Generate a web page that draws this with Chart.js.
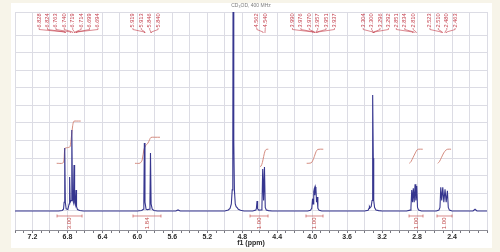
<!DOCTYPE html>
<html>
<head>
<meta charset="utf-8">
<script src="https://cdn.jsdelivr.net/npm/chart.js@4.4.0/dist/chart.umd.min.js"></script>
<style>
  html, body { margin: 0; padding: 0; }
  body { width: 500px; height: 252px; background: #f7f4e9; position: relative; overflow: hidden; }
  #painel { position: absolute; left: 11px; top: 3px; width: 481px; height: 245px; background: #ffffff; }
  canvas { display: block; }
</style>
</head>
<body>
<div id="painel"><canvas id="espectro" width="481" height="245"></canvas></div>
<script>
// 1H NMR, CD3OD, 400 MHz
const tituloTexto = 'CD\u2083OD, 400 MHz';
const eixoTitulo = 'f1 (ppm)';
const xTickLabels = ['7.2', '6.8', '6.4', '6.0', '5.6', '5.2', '4.8', '4.4', '4.0', '3.6', '3.2', '2.8', '2.4'];

// spectrum trace (ppm, intensity)
const specPpm = [
  7.40, 6.90, 6.86, 6.845, 6.838, 6.831, 6.824, 6.815, 6.795, 6.781, 6.775, 6.768, 6.757, 6.750, 6.742, 6.732, 6.725, 6.718, 6.710, 6.702, 6.696, 6.685, 6.66, 6.62,
  6.00, 5.95, 5.933, 5.926, 5.920, 5.913, 5.900, 5.885, 5.863, 5.856, 5.850, 5.843, 5.830, 5.81, 5.77,
  5.56, 5.535, 5.51,
  5.00, 4.96, 4.94, 4.925, 4.915, 4.908, 4.903, 4.897, 4.890, 4.880, 4.870, 4.856, 4.845, 4.82, 4.78,
  4.68, 4.645, 4.638, 4.631, 4.624, 4.61, 4.585, 4.575, 4.566, 4.556, 4.546, 4.537, 4.525, 4.50, 4.46,
  4.05, 4.02, 4.005, 3.996, 3.989, 3.982, 3.976, 3.970, 3.963, 3.957, 3.950, 3.943, 3.935, 3.92, 3.89,
  3.40, 3.36, 3.350, 3.345, 3.338, 3.325, 3.315, 3.310, 3.306, 3.301, 3.296, 3.286, 3.27, 3.24, 3.20,
  2.92, 2.88, 2.870, 2.861, 2.852, 2.843, 2.833, 2.823, 2.814, 2.804, 2.795, 2.782, 2.75,
  2.58, 2.55, 2.538, 2.529, 2.518, 2.506, 2.494, 2.480, 2.467, 2.453, 2.443, 2.43, 2.40,
  2.16, 2.137, 2.115, 2.00
];
const specInt = [
  0, 0, 0.3, 1, 5, 35.8, 5, 1.2, 0.8, 4, 19.3, 5, 6, 46, 7, 5, 26.1, 5, 3.5, 11.9, 2.5, 0.8, 0.3, 0,
  0, 0.3, 1, 5, 38.6, 5, 1, 0.8, 1, 5, 33, 4, 1, 0.3, 0,
  0, 0.6, 0,
  0, 0.6, 1.5, 4, 12, 40, 200, 40, 12, 4, 2.5, 1.8, 1, 0.4, 0,
  0, 0.5, 1.5, 5.7, 1.2, 0.5, 0.6, 2, 23.9, 6, 25, 2, 0.6, 0.2, 0,
  0, 0.4, 1.5, 7, 4, 11, 12.5, 9, 13.6, 12.5, 5, 8, 1.5, 0.4, 0,
  0, 0.4, 1.5, 2.5, 1.8, 2.5, 6, 30, 65.9, 30, 6, 2, 0.6, 0.2, 0,
  0, 0.5, 2, 11.9, 5, 12.9, 5, 15.2, 6, 14.2, 2, 0.5, 0,
  0, 0.5, 2, 13.5, 6, 13.5, 5, 12.3, 5, 11.5, 2, 0.5, 0,
  0, 1, 0, 0
];

// integral curves
const integralPpm = [
  [6.923, 6.854, 6.840, 6.828, 6.800, 6.771, 6.755, 6.740, 6.726, 6.70, 6.648],
  [6.027, 5.970, 5.945, 5.925, 5.905, 5.880, 5.860, 5.845, 5.80, 5.741],
  [4.597, 4.585, 4.570, 4.555, 4.540, 4.525, 4.502],
  [4.063, 4.013, 3.995, 3.975, 3.955, 3.935, 3.873],
  [2.888, 2.870, 2.845, 2.820, 2.800, 2.785, 2.735],
  [2.564, 2.545, 2.520, 2.495, 2.470, 2.450, 2.411]
];
const integralVal = [
  [27.1, 27.2, 29, 35.6, 36, 36.5, 42, 48.5, 51, 51.1, 51.1],
  [27.1, 27.2, 29, 35, 37.2, 38.5, 40.5, 41.8, 41.9, 41.9],
  [25.2, 25.5, 27.5, 31, 34, 35, 35.1],
  [27.1, 27.3, 28.5, 31, 33.8, 35, 35.1],
  [27.1, 28, 30.5, 33, 34.7, 35.1, 35.1],
  [27.1, 28, 30.5, 33, 34.6, 35.1, 35.1]
];
const intFrom = [6.919, 6.05, 4.711, 4.071, 2.892, 2.572];
const intTo = [6.633, 5.73, 4.505, 3.876, 2.732, 2.400];
const intText = ['3.00', '1.84', '1.00', '1.00', '1.00', '1.00'];

// peak picking labels
const peakLabels = [
  ['6.828', '6.824', '6.763', '6.740', '6.719', '6.714', '6.699', '6.694'],
  ['5.919', '5.913', '5.846', '5.840'],
  ['4.562', '4.540'],
  ['3.990', '3.976', '3.970', '3.957', '3.951', '3.937'],
  ['3.304', '3.300', '3.296', '3.292'],
  ['2.851', '2.834', '2.810'],
  ['2.523', '2.510', '2.480', '2.463']
];

const corLinha = '#36368f';
const corIntegral = '#cf7f72';
const corRotulo = '#c23a48';
const corGrade = '#dcdce4';
const labelNudge = [-3.5, -2.4, -3, -1.9, 2.3, -9.6, -1.3];

const pontos = specPpm.map((p, i) => ({ x: p, y: specInt[i] }));

const datasets = [{
  data: pontos,
  borderColor: corLinha,
  borderWidth: 1.1,
  pointRadius: 0,
  tension: 0
}];
integralPpm.forEach((lista, k) => {
  datasets.push({
    data: lista.map((p, i) => ({ x: p, y: integralVal[k][i] })),
    borderColor: corIntegral,
    borderWidth: 0.9,
    pointRadius: 0,
    tension: 0.3
  });
});

function textoVertical(ctx, txt, x, y, alinhamento) {
  ctx.save();
  ctx.translate(x, y);
  ctx.rotate(-Math.PI / 2);
  ctx.textAlign = alinhamento;
  ctx.textBaseline = 'middle';
  ctx.fillText(txt, 0, 0);
  ctx.restore();
}

const decoracao = {
  id: 'decoracao',
  afterDatasetsDraw(chart) {
    const { ctx, chartArea, scales } = chart;
    const sx = scales.x, sy = scales.y;
    ctx.save();

    // title
    ctx.fillStyle = '#7c7c7c';
    ctx.font = '5px "Liberation Sans"';
    ctx.textAlign = 'center';
    ctx.textBaseline = 'middle';
    ctx.fillText(tituloTexto, (chartArea.left + chartArea.right) / 2, chartArea.top - 6);

    // peak labels with leaders
    ctx.font = '5.6px "Liberation Sans"';
    ctx.fillStyle = corRotulo;
    ctx.strokeStyle = corRotulo;
    ctx.lineWidth = 0.6;
    const yb = chartArea.top + 15.5;
    peakLabels.forEach((grupo, g) => {
      const px = grupo.map(v => sx.getPixelForValue(parseFloat(v)));
      const meio = px.reduce((a, b) => a + b, 0) / px.length + labelNudge[g];
      grupo.forEach((txt, i) => {
        const lx = meio + (i - (grupo.length - 1) / 2) * 8.4;
        textoVertical(ctx, txt, lx, yb, 'left');
        ctx.beginPath();
        ctx.moveTo(lx, yb + 0.5);
        ctx.lineTo(lx, yb + 2);
        ctx.lineTo(px[i], yb + 4.5);
        ctx.lineTo(px[i], yb + 5.5);
        ctx.stroke();
      });
    });

    // integral brackets and values
    ctx.font = '6px "Liberation Sans"';
    ctx.fillStyle = '#c04a4a';
    ctx.strokeStyle = '#c85a5a';
    ctx.lineWidth = 0.7;
    const yi = sy.getPixelForValue(0) + 5;
    intFrom.forEach((f, i) => {
      const x1 = sx.getPixelForValue(f);
      const x2 = sx.getPixelForValue(intTo[i]);
      ctx.beginPath();
      ctx.moveTo(x1, yi); ctx.lineTo(x2, yi);
      ctx.moveTo(x1, yi - 1.5); ctx.lineTo(x1, yi + 1.5);
      ctx.moveTo(x2, yi - 1.5); ctx.lineTo(x2, yi + 1.5);
      ctx.stroke();
      textoVertical(ctx, intText[i], (x1 + x2) / 2, yi + 1.5, 'right');
    });
    ctx.restore();
  }
};

const yMax = 113.07;
const yMin = -10.8;

new Chart(document.getElementById('espectro'), {
  type: 'line',
  data: { datasets: datasets },
  options: {
    responsive: false,
    animation: false,
    devicePixelRatio: 1,
    layout: { padding: { left: 4, top: 9, right: 5, bottom: 0 } },
    plugins: { legend: { display: false }, tooltip: { enabled: false }, title: { display: false } },
    scales: {
      x: {
        type: 'linear',
        reverse: true,
        min: 2.0,
        max: 7.4,
        afterBuildTicks: (eixo) => {
          const t = [];
          for (let i = 20; i <= 74; i++) t.push({ value: i / 10 });
          eixo.ticks = t;
        },
        afterFit: (eixo) => { eixo.height = 18; },
        border: { display: true, color: '#8e8e96', width: 1 },
        grid: {
          color: (c) => (c.tick && Math.round(c.tick.value * 10) % 2 === 0) ? corGrade : 'rgba(0,0,0,0)',
          tickColor: '#77777f',
          tickLength: 3,
          lineWidth: 1
        },
        ticks: {
          autoSkip: false,
          maxRotation: 0,
          padding: 0,
          color: '#2a2a2a',
          font: { family: 'Liberation Sans', size: 7, weight: 'bold' },
          callback: (v) => {
            const s = Number(v).toFixed(1);
            return xTickLabels.includes(s) ? s : '';
          }
        },
        title: {
          display: true,
          text: eixoTitulo,
          color: '#2a2a2a',
          font: { family: 'Liberation Sans', size: 7, weight: 'bold' },
          padding: { top: 0, bottom: 1 }
        }
      },
      y: {
        type: 'linear',
        min: yMin,
        max: yMax,
        afterBuildTicks: (eixo) => {
          const t = [];
          for (let v = 0; v <= 100; v += 10) t.push({ value: v });
          t.push({ value: yMax });
          eixo.ticks = t;
        },
        afterFit: (eixo) => { eixo.width = 0; },
        border: { display: false },
        grid: { color: corGrade, drawTicks: false },
        ticks: { display: false }
      }
    }
  },
  plugins: [decoracao]
});
</script>
</body>
</html>
